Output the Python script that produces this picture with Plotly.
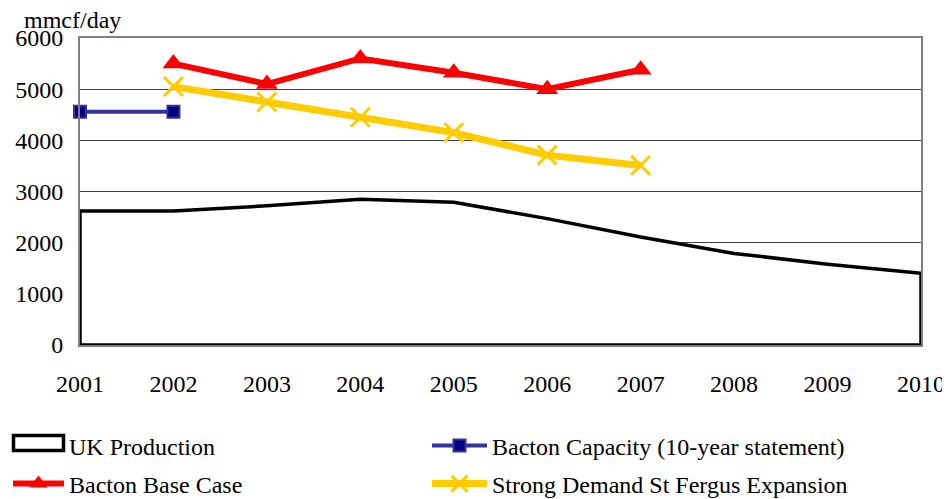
import plotly.graph_objects as go

years = [2001, 2002, 2003, 2004, 2005, 2006, 2007, 2008, 2009, 2010]
uk_production = [2620, 2620, 2720, 2850, 2790, 2470, 2110, 1790, 1580, 1400]

capacity_years = [2001, 2002]
bacton_capacity = [4560, 4560]

case_years = [2002, 2003, 2004, 2005, 2006, 2007]
bacton_base = [5500, 5100, 5600, 5320, 5000, 5380]
strong_demand = [5050, 4750, 4450, 4150, 3710, 3510]

y_ticks = [0, 1000, 2000, 3000, 4000, 5000, 6000]

FONT = "Liberation Serif"
FS = 24

# figure geometry (page body adds an 8px offset)
W, H = 942, 491
ML, MR, MT, MB = 72, 29, 30, 154
PW, PH = W - ML - MR, H - MT - MB


def px_x(x):  # figure px -> paper x
    return (x - ML) / PW


def px_y(y):  # figure px -> paper y
    return (H - MB - y) / PH


fig = go.Figure()

# UK Production as closed outlined area (white fill)
fig.add_trace(go.Scatter(
    x=[years[0]] + years + [years[-1], years[0]],
    y=[0] + uk_production + [0, 0],
    mode="lines", fill="toself", fillcolor="white",
    line=dict(color="black", width=3.5),
    name="UK Production", showlegend=False, cliponaxis=False,
))
# legend entry for UK Production (symbol drawn as a box shape)
fig.add_trace(go.Scatter(
    x=[None], y=[None], mode="lines", line=dict(color="rgba(0,0,0,0)", width=1),
    name="UK Production", legend="legend",
))
fig.add_trace(go.Scatter(
    x=capacity_years, y=bacton_capacity, mode="lines+markers",
    line=dict(color="#333399", width=4),
    marker=dict(symbol="square", size=12, color="#000080", line=dict(color="#333399", width=2)),
    name="Bacton Capacity (10-year statement)", cliponaxis=False, legend="legend2",
))
fig.add_trace(go.Scatter(
    x=case_years, y=bacton_base, mode="lines+markers",
    line=dict(color="#FF0000", width=6),
    marker=dict(symbol="triangle-up", size=19, color="#FF0000"),
    name="Bacton Base Case", cliponaxis=False, legend="legend3",
))
fig.add_trace(go.Scatter(
    x=case_years, y=strong_demand, mode="lines+markers",
    line=dict(color="#FFCC00", width=7),
    marker=dict(symbol="x-thin-open", size=19, color="#FFCC00", line=dict(color="#FFCC00", width=3)),
    name="Strong Demand St Fergus Expansion", cliponaxis=False, legend="legend4",
))


def leg(xpx, ypx, iw):
    return dict(
        orientation="h", xanchor="left", yanchor="middle",
        xref="container", yref="container",
        x=xpx / W, y=1 - ypx / H, itemwidth=iw,
        font=dict(family=FONT, size=FS), bgcolor="rgba(0,0,0,0)",
    )


fig.update_layout(
    width=W, height=H,
    margin=dict(l=ML, r=MR, t=MT, b=MB, autoexpand=False),
    plot_bgcolor="white", paper_bgcolor="white",
    font=dict(family=FONT, size=FS, color="black"),
    showlegend=True,
    legend=leg(0, 438, 51),
    legend2=leg(419, 438, 55),
    legend3=leg(0, 476, 51),
    legend4=leg(419, 476, 55),
    annotations=[dict(
        text="mmcf/day", xref="paper", yref="paper", x=px_x(14), y=1,
        yshift=3, xanchor="left", yanchor="bottom", showarrow=False,
        font=dict(family=FONT, size=FS),
    )],
    shapes=[dict(
        type="rect", xref="paper", yref="paper",
        x0=px_x(5.5), x1=px_x(55.5), y0=px_y(427.5), y1=px_y(442.5),
        line=dict(color="black", width=3.5), fillcolor="white", layer="above",
    )],
)
fig.update_xaxes(
    range=[years[0], years[-1]], tickvals=years, ticktext=[str(y) for y in years],
    showgrid=False, zeroline=False, ticks="", ticklabelstandoff=16, automargin=False,
    showline=True, linecolor="#808080", linewidth=2, mirror=True,
)
fig.update_yaxes(
    range=[0, 6000], tickvals=y_ticks, ticktext=[str(v) for v in y_ticks],
    showgrid=True, gridcolor="#404040", gridwidth=1, zeroline=False, ticks="",
    ticklabelstandoff=10, automargin=False,
    showline=True, linecolor="#808080", linewidth=2, mirror=True,
)

fig.write_html("out.html")
